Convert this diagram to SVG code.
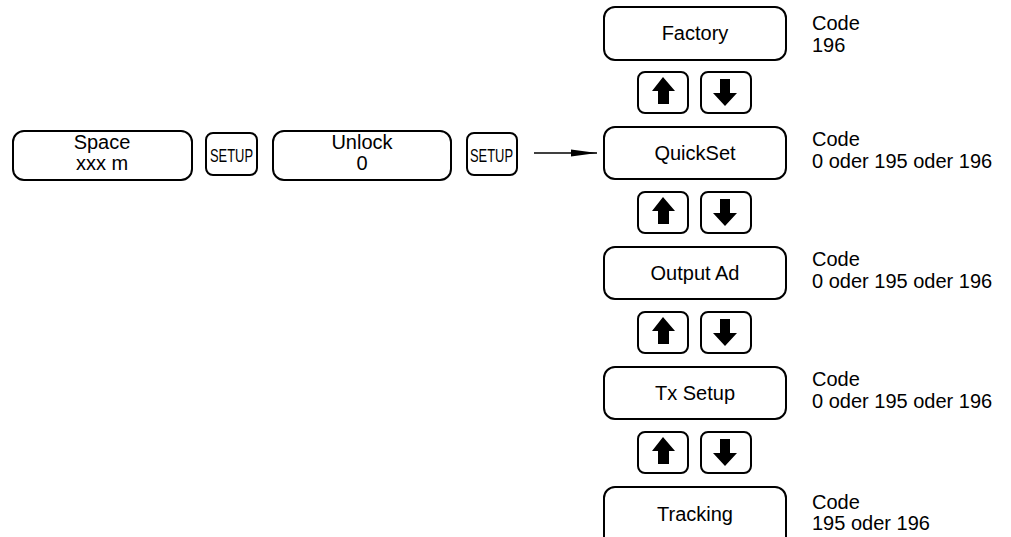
<svg xmlns="http://www.w3.org/2000/svg" width="1011" height="537" viewBox="0 0 1011 537">
  <style>
    .box { fill: #fff; stroke: #000; stroke-width: 2; }
    .key { fill: #fff; stroke: #000; stroke-width: 2; }
    .lbl { font-family: "Liberation Sans", Arial, sans-serif; font-size: 20px; fill: #000; }
    .mid { text-anchor: middle; }
    .key-txt { font-family: "Liberation Sans", Arial, sans-serif; font-size: 18px; fill: #000; }
    .ico { fill: #000; }
  </style>
  <defs>
    <!-- arrow key symbols, drawn at the key's origin (50 x 41 key) -->
    <g id="key-up">
      <rect class="key" x="0" y="0" width="50" height="41" rx="7"/>
      <path class="ico" d="M25 5 L37 19 L31 19 L31 32 L20 32 L20 19 L14 19 Z"/>
    </g>
    <g id="key-down">
      <rect class="key" x="0" y="0" width="50" height="41" rx="7"/>
      <path class="ico" d="M19 7 L29 7 L29 21 L36 21 L24 34 L12 21 L19 21 Z"/>
    </g>
    <marker id="arrowhead" markerWidth="26" markerHeight="10" refX="26" refY="5" orient="auto" markerUnits="userSpaceOnUse">
      <path d="M0 1.5 L26 5 L0 8.5 Z" fill="#000"/>
    </marker>
  </defs>

  <rect width="1011" height="537" fill="#fff"/>

  <!-- entry row -->
  <g id="node-space">
    <rect class="box" x="13" y="131" width="179" height="49" rx="11"/>
    <text class="lbl mid" x="102" y="149">Space</text>
    <text class="lbl mid" x="102" y="170">xxx m</text>
  </g>
  <g id="node-setup1">
    <rect class="key" x="206" y="133" width="51" height="42" rx="7"/>
    <text class="key-txt" x="210" y="162" textLength="43" lengthAdjust="spacingAndGlyphs">SETUP</text>
  </g>
  <g id="node-unlock">
    <rect class="box" x="273" y="131" width="178" height="49" rx="11"/>
    <text class="lbl mid" x="362" y="149">Unlock</text>
    <text class="lbl mid" x="362" y="170">0</text>
  </g>
  <g id="node-setup2">
    <rect class="key" x="467" y="133" width="50" height="42" rx="7"/>
    <text class="key-txt" x="470" y="162" textLength="43" lengthAdjust="spacingAndGlyphs">SETUP</text>
  </g>

  <!-- menu column -->
  <g id="node-factory">
    <rect class="box" x="604" y="7" width="182" height="53" rx="11"/>
    <text class="lbl mid" x="695" y="40">Factory</text>
    <text class="lbl" x="812" y="30">Code</text>
    <text class="lbl" x="812" y="52">196</text>
  </g>
  <g id="keys-1">
    <use href="#key-up" x="638" y="72"/>
    <use href="#key-down" x="701" y="72"/>
  </g>
  <g id="node-quickset">
    <rect class="box" x="604" y="127" width="182" height="52" rx="11"/>
    <text class="lbl mid" x="695" y="160">QuickSet</text>
    <text class="lbl" x="812" y="146">Code</text>
    <text class="lbl" x="812" y="168">0 oder 195 oder 196</text>
  </g>
  <g id="keys-2">
    <use href="#key-up" x="638" y="192"/>
    <use href="#key-down" x="701" y="192"/>
  </g>
  <g id="node-output-ad">
    <rect class="box" x="604" y="247" width="182" height="52" rx="11"/>
    <text class="lbl mid" x="695" y="280">Output Ad</text>
    <text class="lbl" x="812" y="266">Code</text>
    <text class="lbl" x="812" y="288">0 oder 195 oder 196</text>
  </g>
  <g id="keys-3">
    <use href="#key-up" x="638" y="312"/>
    <use href="#key-down" x="701" y="312"/>
  </g>
  <g id="node-tx-setup">
    <rect class="box" x="604" y="367" width="182" height="52" rx="11"/>
    <text class="lbl mid" x="695" y="400">Tx Setup</text>
    <text class="lbl" x="812" y="386">Code</text>
    <text class="lbl" x="812" y="408">0 oder 195 oder 196</text>
  </g>
  <g id="keys-4">
    <use href="#key-up" x="638" y="432"/>
    <use href="#key-down" x="701" y="432"/>
  </g>
  <g id="node-tracking">
    <rect class="box" x="604" y="487" width="182" height="60" rx="11"/>
    <text class="lbl mid" x="695" y="521">Tracking</text>
    <text class="lbl" x="812" y="509">Code</text>
    <text class="lbl" x="812" y="530">195 oder 196</text>
  </g>

  <!-- connectors -->
  <g id="connectors">
    <line x1="534" y1="153" x2="597" y2="153" stroke="#000" stroke-width="1.6" marker-end="url(#arrowhead)"/>
  </g>
</svg>
